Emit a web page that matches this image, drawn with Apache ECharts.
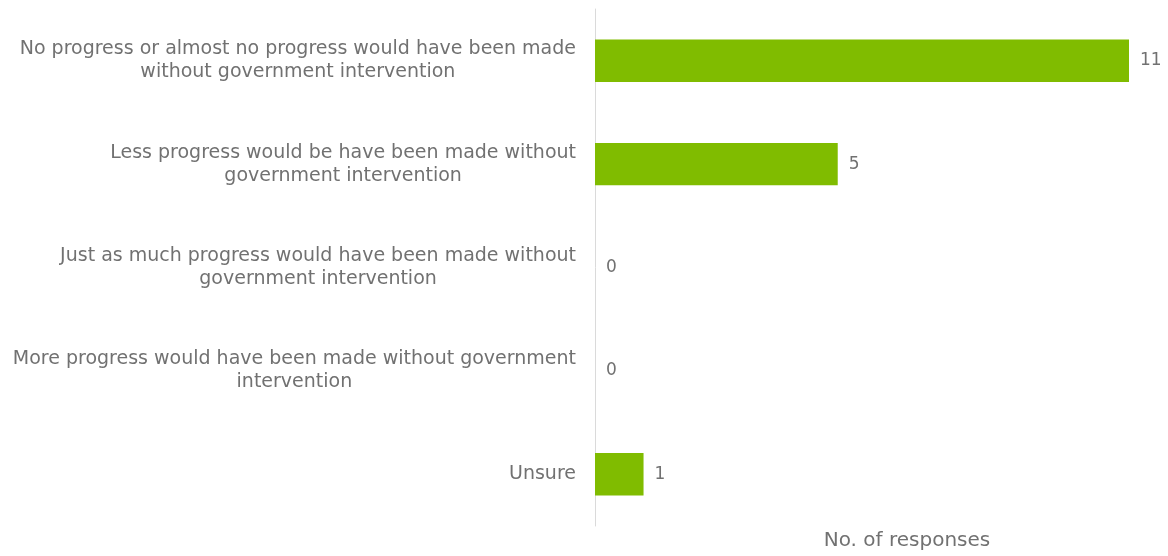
<!DOCTYPE html>
<html>
<head>
<meta charset="utf-8">
<script src="https://cdn.jsdelivr.net/npm/echarts@6/dist/echarts.min.js"></script>
<style>
  html, body { margin: 0; padding: 0; background: #fff; }
  #chart { width: 1168px; height: 556px; }
</style>
</head>
<body>
<div id="chart"></div>
<script>
// categories (top to bottom), line breaks as in the original
const categories = [
  "No progress or almost no progress would have been made\nwithout government intervention",
  "Less progress would be have been made without\ngovernment intervention",
  "Just as much progress would have been made without\ngovernment intervention",
  "More progress would have been made without government\nintervention",
  "Unsure"
];
const responses = [11, 5, 0, 0, 1];
const axisName = "No. of responses";

const FONT = "'DejaVu Sans', Verdana, sans-serif";
const TEXT_COLOR = "#717171";

const chart = echarts.init(document.getElementById("chart"), null, { renderer: "canvas" });

chart.setOption({
  animation: false,
  grid: { left: 595, right: 39, top: 9, bottom: 25, containLabel: false },
  xAxis: {
    type: "value",
    min: 0,
    max: 11,
    axisLine: { show: false },
    axisTick: { show: false },
    axisLabel: { show: false },
    splitLine: { show: false },
    name: axisName,
    nameLocation: "middle",
    nameGap: 5,
    nameTextStyle: {
      color: TEXT_COLOR,
      fontSize: 20,
      fontFamily: FONT,
      padding: [0, 0, 0, 90]
    }
  },
  yAxis: {
    type: "category",
    inverse: true,
    data: categories,
    axisLine: { show: true, lineStyle: { color: "#dadada", width: 1 } },
    axisTick: { show: false },
    axisLabel: {
      margin: 19,
      fontSize: 19,
      fontFamily: FONT,
      color: TEXT_COLOR,
      lineHeight: 23,
      // each line centred inside the label block, block right-aligned
      formatter: (label) => label.split("\n").map(s => "{c|" + s + "}").join("\n"),
      rich: {
        c: {
          align: "center",
          fontSize: 19,
          fontFamily: FONT,
          color: TEXT_COLOR,
          lineHeight: 23
        }
      }
    }
  },
  series: [
    {
      type: "bar",
      data: responses,
      barWidth: "41%",
      itemStyle: { color: "#80bc00" },
      label: {
        show: true,
        position: "right",
        distance: 11,
        fontSize: 17,
        fontFamily: FONT,
        color: TEXT_COLOR
      }
    }
  ]
});
</script>
</body>
</html>
